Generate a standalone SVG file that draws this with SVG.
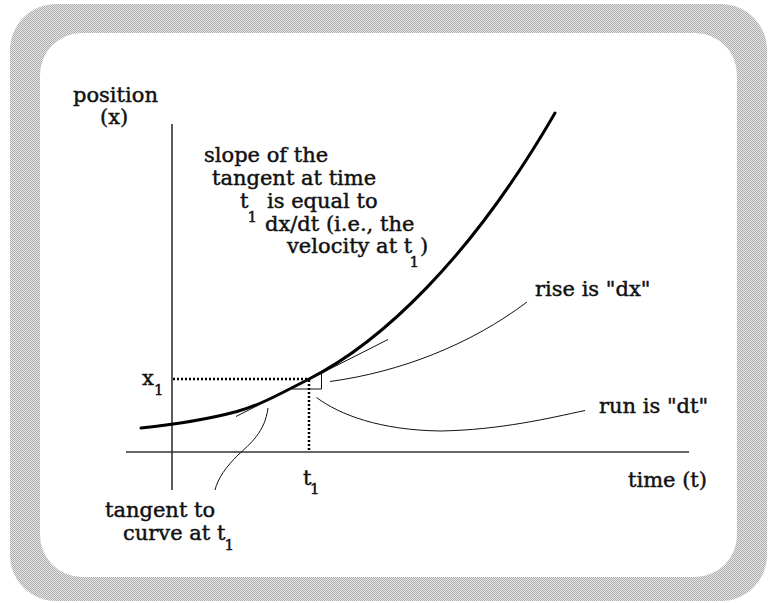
<svg xmlns="http://www.w3.org/2000/svg" width="769" height="603" viewBox="0 0 769 603">
<defs>
<pattern id="chk" width="2" height="2" patternUnits="userSpaceOnUse">
<rect width="2" height="2" fill="#e6e6e6"/>
<rect width="1" height="1" fill="#adadad"/>
<rect x="1" y="1" width="1" height="1" fill="#adadad"/>
</pattern>
</defs>
<style>
text{font-family:"DejaVu Serif","Liberation Serif",serif;font-size:21px;fill:#111;stroke:#111;stroke-width:0.45}
.sub{font-size:15px}
.axis{stroke:#333;stroke-width:1.6;fill:none}
.thin{stroke:#111;stroke-width:1;fill:none}
.curve{stroke:#000;stroke-width:3;fill:none;stroke-linecap:round}
.dot{stroke:#000;stroke-width:2.5;stroke-dasharray:2 2;fill:none}
</style>
<g id="frame">
<rect x="10" y="4" width="757" height="597" rx="46" ry="46" fill="url(#chk)"/>
<rect x="40" y="33" width="697" height="544" rx="42" ry="42" fill="#fff"/>
</g>
<g id="axes">
<line class="axis" x1="172" y1="124" x2="172" y2="490"/>
<line class="axis" x1="126" y1="452" x2="689" y2="452"/>
</g>
<g id="curve">
<path class="curve" d="M141,428 C170,425 205,420 237,411.5 C260,405.4 285,391.2 309,379 C380,343 470,260 555,113"/>
</g>
<g id="guides">
<line class="dot" x1="173" y1="379" x2="309" y2="379"/>
<line class="dot" x1="309" y1="380" x2="309" y2="451"/>
<line class="thin" x1="236" y1="416.5" x2="388" y2="339.5"/>
<path class="thin" d="M292,389 H321.5 V373"/>
</g>
<g id="connectors">
<path class="thin" d="M330,381.5 C400,372 470,345 527,302"/>
<path class="thin" d="M316.5,397.5 C340,415 380,430 440,431 C500,430 550,418 585,410.5"/>
<path class="thin" d="M268,408 C265,432 250,444 238,455 C226,467 218,478 215,490"/>
</g>
<g id="label-position">
<text x="73" y="102">position</text>
<text x="100" y="124">(x)</text>
</g>
<g id="label-slope">
<text x="204" y="162">slope of the</text>
<text x="212" y="185">tangent at time</text>
<text x="240" y="208">t</text>
<text class="sub" x="247.5" y="222">1</text>
<text x="267" y="208">is equal to</text>
<text x="265" y="231">dx/dt (i.e., the</text>
<text x="287" y="253">velocity at t</text>
<text class="sub" x="409.5" y="267">1</text>
<text x="420" y="253">)</text>
</g>
<g id="label-x1">
<text x="142" y="385">x</text>
<text class="sub" x="154" y="395">1</text>
</g>
<g id="label-t1">
<text x="303" y="485">t</text>
<text class="sub" x="310" y="494">1</text>
</g>
<g id="label-tangent">
<text x="105" y="517">tangent to</text>
<text x="123" y="540">curve at t</text>
<text class="sub" x="224.5" y="550">1</text>
</g>
<g id="label-rise">
<text x="535" y="296">rise is "dx"</text>
</g>
<g id="label-run">
<text x="599" y="413">run is "dt"</text>
</g>
<g id="label-time">
<text x="628" y="487">time (t)</text>
</g>
</svg>
